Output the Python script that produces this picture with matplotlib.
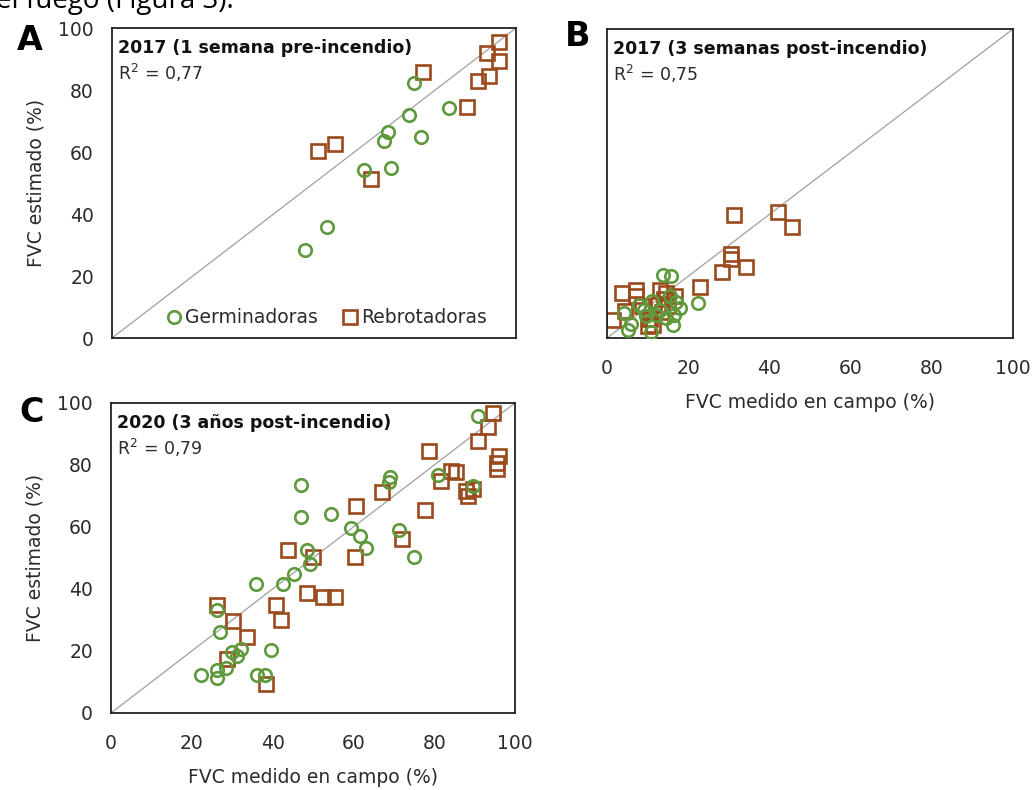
import matplotlib
matplotlib.use("Agg")
import matplotlib.pyplot as plt

# ---- data ----
# Panel A: 2017 (1 semana pre-incendio)
a_germ_x = [74.8, 73.4, 68.2, 67.3, 76.6, 83.5, 62.3, 69.1, 53.1, 47.7]
a_germ_y = [82.2, 71.8, 66.5, 63.6, 64.7, 74.1, 54.2, 54.7, 35.9, 28.5]
a_rebr_x = [77.0, 50.9, 55.1, 64.1, 87.8, 90.5, 93.4, 92.9, 95.9, 95.9]
a_rebr_y = [85.7, 60.3, 62.5, 51.4, 74.4, 82.9, 84.5, 91.8, 95.6, 89.4]

# Panel B: 2017 (3 semanas post-incendio)
b_germ_x = [13.8, 15.7, 22.4, 17.9, 16.3, 5.2, 10.9, 8.0, 4.2, 6.0, 9.5, 12.0,
            14.5, 16.5, 11.0, 13.0, 17.0, 9.0, 15.5]
b_germ_y = [20.5, 20.2, 11.3, 9.7, 4.3, 2.7, 1.8, 10.8, 8.1, 4.5, 7.0, 7.5,
            6.5, 7.5, 12.0, 9.0, 11.5, 9.0, 13.5]
b_rebr_x = [31.2, 42.1, 45.6, 30.6, 30.6, 34.2, 28.4, 23.0, 1.5, 3.7, 7.2, 7.2,
            4.4, 13.0, 14.6, 16.7, 14.0, 12.5, 15.0, 8.5, 10.1, 11.3, 10.5, 13.5]
b_rebr_y = [39.7, 40.7, 35.8, 27.3, 25.7, 23.0, 21.4, 16.6, 5.9, 14.6, 15.6, 13.5,
            8.6, 15.6, 14.6, 13.5, 12.5, 10.8, 10.5, 10.5, 3.8, 4.3, 6.0, 8.5]

# Panel C: 2020 (3 años post-incendio)
c_germ_x = [90.8, 81.0, 69.1, 68.9, 47.0, 47.0, 54.4, 59.3, 61.6, 63.1, 71.4, 75.1,
            48.6, 49.3, 89.5, 45.4, 42.5, 35.9, 26.2, 27.0, 29.9, 31.1, 32.1, 39.6,
            28.4, 26.2, 26.2, 22.3, 36.2, 38.0]
c_germ_y = [95.9, 76.7, 76.0, 74.4, 73.5, 63.3, 64.1, 59.8, 57.1, 53.1, 58.9, 50.4,
            52.6, 48.2, 73.1, 44.7, 41.7, 41.7, 33.2, 26.2, 19.7, 18.3, 20.7, 20.2,
            14.5, 14.0, 11.3, 12.4, 12.1, 12.1]
c_rebr_x = [94.5, 93.2, 90.8, 78.8, 96.1, 95.5, 95.5, 84.1, 85.4, 81.6, 87.9, 88.4,
            89.7, 67.0, 60.6, 77.6, 72.1, 60.4, 43.9, 50.1, 48.4, 52.4, 55.4, 26.2,
            40.8, 42.2, 30.3, 33.6, 28.6, 38.3]
c_rebr_y = [96.8, 92.3, 87.8, 84.6, 83.0, 80.5, 78.7, 78.1, 77.6, 74.9, 71.7, 70.0,
            72.2, 71.3, 66.8, 65.4, 56.0, 50.4, 52.6, 50.4, 38.8, 37.5, 37.5, 35.0,
            35.0, 30.0, 29.6, 24.6, 17.5, 9.5]

titles = ["2017 (1 semana pre-incendio)", "2017 (3 semanas post-incendio)",
          "2020 (3 años post-incendio)"]
r2_labels = ["R$^2$ = 0,77", "R$^2$ = 0,75", "R$^2$ = 0,79"]
ticks = [0, 20, 40, 60, 80, 100]
tick_labels = ["0", "20", "40", "60", "80", "100"]
series_names = ["Germinadoras", "Rebrotadoras"]

GREEN = "#5E9A3C"
BROWN = "#9A4A1C"
TXT = "#2b2b2b"

plt.rcParams['font.family'] = ['DejaVu Sans']

fig = plt.figure(figsize=(10.35, 7.9), dpi=100)
W, H = 1035, 790

def add_ax(x0, x1, y0, y1):
    return fig.add_axes([x0 / W, 1 - y1 / H, (x1 - x0) / W, (y1 - y0) / H])

axA = add_ax(112, 516, 28, 338)
axB = add_ax(607, 1013, 29, 338)
axC = add_ax(111, 515, 403, 713)

panels = [
    (axA, a_germ_x, a_germ_y, a_rebr_x, a_rebr_y, True, False),
    (axB, b_germ_x, b_germ_y, b_rebr_x, b_rebr_y, False, True),
    (axC, c_germ_x, c_germ_y, c_rebr_x, c_rebr_y, True, True),
]

for i, (ax, gx, gy, rx, ry, show_y, show_x) in enumerate(panels):
    ax.set_xlim(0, 100)
    ax.set_ylim(0, 100)
    ax.plot([0, 100], [0, 100], color="#a0a0a0", lw=0.9, zorder=1)
    ax.plot(gx, gy, ls='none', marker='o', ms=9.0, mfc='none', mec=GREEN,
            mew=1.9, zorder=3, label=series_names[0])
    ax.plot(rx, ry, ls='none', marker='s', ms=9.5, mfc='none', mec=BROWN,
            mew=1.9, zorder=2, label=series_names[1])
    for s in ax.spines.values():
        s.set_linewidth(1.3)
        s.set_color("#222222")
    ax.set_xticks(ticks)
    ax.set_yticks(ticks)
    ax.tick_params(length=0, labelsize=13.5, colors=TXT)
    ax.tick_params(axis='y', pad=13)
    ax.tick_params(axis='x', pad=15)
    if show_y:
        ax.set_yticklabels(tick_labels)
        ax.set_ylabel("FVC estimado (%)", fontsize=13.5, color=TXT, labelpad=9)
    else:
        ax.set_yticklabels([])
    if show_x:
        ax.set_xticklabels(tick_labels)
        ax.set_xlabel("FVC medido en campo (%)", fontsize=13.5, color=TXT, labelpad=11)
    else:
        ax.set_xticklabels([])
    ax.text(0.015, 0.935, titles[i], transform=ax.transAxes, fontsize=12.5,
            fontweight='bold', color="#111111", va='center', ha='left')
    ax.text(0.015, 0.855, r2_labels[i], transform=ax.transAxes, fontsize=12.5,
            color=TXT, va='center', ha='left')

axA.legend(loc='lower center', ncol=2, frameon=False, fontsize=13.5,
           handletextpad=0.1, columnspacing=1.2, handlelength=1.0,
           bbox_to_anchor=(0.53, -0.02), labelcolor=TXT)

fig.text(30 / W, 1 - 40 / H, "A", fontsize=24, fontweight='bold', ha='center', va='center')
fig.text(578 / W, 1 - 36 / H, "B", fontsize=24, fontweight='bold', ha='center', va='center')
fig.text(32 / W, 1 - 412 / H, "C", fontsize=24, fontweight='bold', ha='center', va='center')

fig.text(-4 / W, 1 - 8 / H, "el fuego (Figura 3).", fontsize=20, ha='left',
         va='baseline', family=['Open Sans', 'DejaVu Sans'])

fig.savefig("out.png", dpi=100)
